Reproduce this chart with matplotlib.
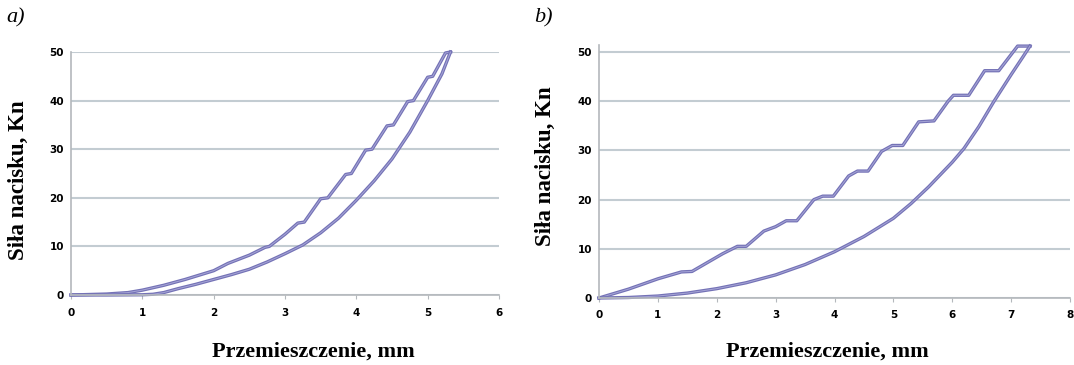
import matplotlib
matplotlib.use("Agg")
import matplotlib.pyplot as plt

# ---- data: panel a ----
a_load_x = [0, 0.5, 0.8, 1.0, 1.3, 1.6, 2.0, 2.2, 2.5, 2.72, 2.78, 3.0, 3.18, 3.27, 3.5, 3.6,
            3.85, 3.93, 4.13, 4.22, 4.43, 4.52, 4.72, 4.8, 5.0, 5.07, 5.25, 5.32]
a_load_y = [0, 0.2, 0.5, 1.0, 2.0, 3.2, 5.0, 6.5, 8.2, 9.8, 10.0, 12.5, 14.8, 15.0, 19.8, 20.0,
            24.8, 25.0, 29.8, 30.0, 34.8, 35.0, 39.8, 40.0, 44.8, 45.0, 49.8, 50.0]
a_unload_x = [5.32, 5.2, 5.0, 4.75, 4.5, 4.25, 4.0, 3.75, 3.5, 3.25, 3.0, 2.75, 2.5,
              2.25, 2.0, 1.75, 1.5, 1.3, 1.15, 1.0, 0.5, 0]
a_unload_y = [50, 45.5, 40, 33.5, 28, 23.5, 19.5, 15.8, 12.8, 10.3, 8.5, 6.8, 5.3,
              4.2, 3.2, 2.2, 1.3, 0.5, 0.15, 0.05, 0, 0]

# ---- data: panel b ----
b_load_x = [0, 0.5, 1.0, 1.4, 1.58, 2.1, 2.35, 2.5, 2.8, 3.0, 3.18, 3.36, 3.65, 3.8, 3.98,
            4.24, 4.39, 4.57, 4.8, 4.98, 5.16, 5.43, 5.69, 5.93, 6.02, 6.28, 6.55, 6.79,
            7.11, 7.32]
b_load_y = [0, 1.8, 3.9, 5.3, 5.4, 9.0, 10.5, 10.5, 13.6, 14.5, 15.7, 15.7, 20.0, 20.7, 20.7,
            24.8, 25.8, 25.8, 29.8, 31.0, 31.0, 35.8, 36.0, 40.0, 41.2, 41.2, 46.2, 46.2,
            51.2, 51.2]
b_unload_x = [7.32, 7.2, 7.0, 6.7, 6.45, 6.2, 6.0, 5.6, 5.3, 5.0, 4.5, 4.0, 3.5, 3.0, 2.5,
              2.0, 1.5, 1.0, 0.5, 0]
b_unload_y = [51.2, 49.0, 45.4, 39.8, 34.8, 30.4, 27.6, 22.6, 19.2, 16.2, 12.5, 9.4, 6.8,
              4.7, 3.1, 1.9, 1.0, 0.4, 0.1, 0]

a_xticks = [0, 1, 2, 3, 4, 5, 6]
b_xticks = [0, 1, 2, 3, 4, 5, 6, 7, 8]
yticks = [0, 10, 20, 30, 40, 50]

ylabel = "Siła nacisku, Kn"
xlabel = "Przemieszczenie, mm"

LINE = "#7472b6"
INNER = "#a6a5d6"
GRID = "#c3ccd2"
SPINE = "#b4b8bc"

W, H = 1074, 365
fig = plt.figure(figsize=(W / 100, H / 100), dpi=100)


def px_axes(x0, x1, ytop, ybot):
    return fig.add_axes([x0 / W, (H - ybot) / H, (x1 - x0) / W, (ybot - ytop) / H])


def style(ax, xticks, xmax, ymax):
    ax.set_xlim(0, xmax)
    ax.set_ylim(0, ymax)
    ax.set_xticks(xticks)
    ax.set_yticks(yticks)
    for s in ["top", "right"]:
        ax.spines[s].set_visible(False)
    for s in ["left", "bottom"]:
        ax.spines[s].set_color(SPINE)
        ax.spines[s].set_linewidth(1.2)
    ax.grid(axis="y", color=GRID, linewidth=1.5)
    ax.set_axisbelow(True)
    ax.tick_params(axis="x", length=3, color=SPINE, pad=6)
    ax.tick_params(axis="y", length=0, pad=5)
    for lab in ax.get_xticklabels() + ax.get_yticklabels():
        lab.set_fontfamily("DejaVu Sans")
        lab.set_fontweight("heavy")
        lab.set_fontsize(7.5)


def draw(ax, xs, ys):
    ax.plot(xs, ys, color=LINE, linewidth=2.4, solid_joinstyle="round", clip_on=False)
    ax.plot(xs, ys, color=INNER, linewidth=0.7, solid_joinstyle="round", clip_on=False)


ax1 = px_axes(71, 499, 52, 295)
style(ax1, a_xticks, 6, 50)
draw(ax1, a_load_x, a_load_y)
draw(ax1, a_unload_x, a_unload_y)

ytop_b = 52 - 1.5 * (298 - 52) / 50
ax2 = px_axes(599, 1070, ytop_b, 298)
style(ax2, b_xticks, 8, 51.5)
draw(ax2, b_load_x, b_load_y)
draw(ax2, b_unload_x, b_unload_y)

serif = "Liberation Serif"
fig.text(18 / W, 1 - 180 / H, ylabel, rotation=90, ha="center", va="center",
         fontfamily=serif, fontweight="bold", fontsize=16.5)
fig.text(545 / W, 1 - 166 / H, ylabel, rotation=90, ha="center", va="center",
         fontfamily=serif, fontweight="bold", fontsize=16.5)
fig.text(313 / W, 1 - 352 / H, xlabel, ha="center", va="center",
         fontfamily=serif, fontweight="bold", fontsize=16)
fig.text(827 / W, 1 - 352 / H, xlabel, ha="center", va="center",
         fontfamily=serif, fontweight="bold", fontsize=16)
fig.text(6 / W, 1 - 18 / H, "a)", ha="left", va="center",
         fontfamily=serif, fontstyle="italic", fontsize=16)
fig.text(534 / W, 1 - 18 / H, "b)", ha="left", va="center",
         fontfamily=serif, fontstyle="italic", fontsize=16)

fig.savefig("out.png", dpi=100)
